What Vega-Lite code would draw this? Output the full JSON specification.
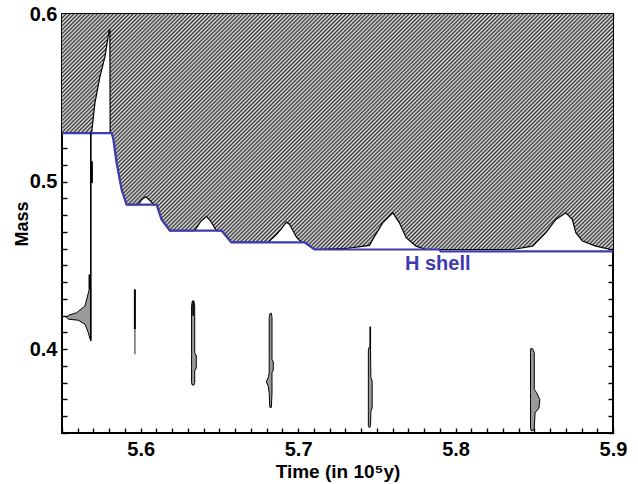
{
  "$schema": "https://vega.github.io/schema/vega-lite/v6.json",
  "width": 551,
  "height": 419,
  "autosize": "none",
  "padding": {"left": 62, "top": 14, "right": 25, "bottom": 51},
  "config": {
    "view": {"stroke": "black", "strokeWidth": 2},
    "axis": {
      "domainColor": "black", "domainWidth": 2,
      "tickColor": "black", "tickWidth": 1.4,
      "labelFont": "Liberation Sans", "labelFontWeight": "bold", "labelFontSize": 20, "labelColor": "black",
      "titleFont": "Liberation Sans", "titleFontWeight": "bold", "titleColor": "black",
      "grid": false, "labelOverlap": false, "labelFlush": false
    }
  },
  "datasets": {
    "env": [
      {"t": 5.5500, "m": 0.5289}, {"t": 5.5688, "m": 0.5289}, {"t": 5.5709, "m": 0.5468},
      {"t": 5.5741, "m": 0.5627}, {"t": 5.5773, "m": 0.5746}, {"t": 5.5800, "m": 0.5905},
      {"t": 5.5804, "m": 0.5905}, {"t": 5.5806, "m": 0.5289}, {"t": 5.5815, "m": 0.5289},
      {"t": 5.5825, "m": 0.5260}, {"t": 5.5847, "m": 0.5111}, {"t": 5.5879, "m": 0.4952},
      {"t": 5.5910, "m": 0.4863}, {"t": 5.5984, "m": 0.4863}, {"t": 5.6007, "m": 0.4893},
      {"t": 5.6033, "m": 0.4909}, {"t": 5.6058, "m": 0.4887}, {"t": 5.6083, "m": 0.4863},
      {"t": 5.6101, "m": 0.4863}, {"t": 5.6132, "m": 0.4774}, {"t": 5.6185, "m": 0.4708},
      {"t": 5.6343, "m": 0.4708}, {"t": 5.6381, "m": 0.4762}, {"t": 5.6418, "m": 0.4793},
      {"t": 5.6445, "m": 0.4762}, {"t": 5.6481, "m": 0.4708}, {"t": 5.6513, "m": 0.4708},
      {"t": 5.6576, "m": 0.4637}, {"t": 5.6808, "m": 0.4637}, {"t": 5.6857, "m": 0.4679},
      {"t": 5.6889, "m": 0.4714}, {"t": 5.6925, "m": 0.4758}, {"t": 5.6946, "m": 0.4744},
      {"t": 5.6990, "m": 0.4667}, {"t": 5.7022, "m": 0.4637}, {"t": 5.7041, "m": 0.4637},
      {"t": 5.7104, "m": 0.4595}, {"t": 5.7305, "m": 0.4601}, {"t": 5.7453, "m": 0.4619},
      {"t": 5.7474, "m": 0.4655}, {"t": 5.7537, "m": 0.4754}, {"t": 5.7601, "m": 0.4814},
      {"t": 5.7643, "m": 0.4754}, {"t": 5.7686, "m": 0.4665}, {"t": 5.7749, "m": 0.4615},
      {"t": 5.7813, "m": 0.4595}, {"t": 5.7897, "m": 0.4595}, {"t": 5.8362, "m": 0.4595},
      {"t": 5.8489, "m": 0.4615}, {"t": 5.8574, "m": 0.4695}, {"t": 5.8637, "m": 0.4774},
      {"t": 5.8700, "m": 0.4814}, {"t": 5.8742, "m": 0.4774}, {"t": 5.8764, "m": 0.4695},
      {"t": 5.8806, "m": 0.4645}, {"t": 5.8891, "m": 0.4615}, {"t": 5.9000, "m": 0.4592}
    ],
    "hshell": [
      {"t": 5.5500, "m": 0.5289}, {"t": 5.5815, "m": 0.5289}, {"t": 5.5825, "m": 0.5260},
      {"t": 5.5847, "m": 0.5111}, {"t": 5.5879, "m": 0.4952}, {"t": 5.5910, "m": 0.4863},
      {"t": 5.6101, "m": 0.4863}, {"t": 5.6132, "m": 0.4774}, {"t": 5.6185, "m": 0.4708},
      {"t": 5.6513, "m": 0.4708}, {"t": 5.6576, "m": 0.4637}, {"t": 5.7041, "m": 0.4637},
      {"t": 5.7104, "m": 0.4595}, {"t": 5.7897, "m": 0.4595}, {"t": 5.7905, "m": 0.4584},
      {"t": 5.9000, "m": 0.4584}
    ],
    "pulses": [
      {"p": 1, "m": 0.4357, "t1": 5.5673, "t2": 5.5682},
      {"p": 1, "m": 0.4258, "t1": 5.5646, "t2": 5.5682},
      {"p": 1, "m": 0.4218, "t1": 5.5593, "t2": 5.5682},
      {"p": 1, "m": 0.4202, "t1": 5.5540, "t2": 5.5682},
      {"p": 1, "m": 0.4189, "t1": 5.5530, "t2": 5.5682},
      {"p": 1, "m": 0.4179, "t1": 5.5540, "t2": 5.5682},
      {"p": 1, "m": 0.4173, "t1": 5.5603, "t2": 5.5682},
      {"p": 1, "m": 0.4149, "t1": 5.5646, "t2": 5.5682},
      {"p": 1, "m": 0.4099, "t1": 5.5667, "t2": 5.5682},
      {"p": 1, "m": 0.4060, "t1": 5.5678, "t2": 5.5682},
      {"p": 3, "m": 0.4288, "t1": 5.6328, "t2": 5.6338},
      {"p": 3, "m": 0.4260, "t1": 5.6323, "t2": 5.6343},
      {"p": 3, "m": 0.3980, "t1": 5.6323, "t2": 5.6343},
      {"p": 3, "m": 0.3960, "t1": 5.6323, "t2": 5.6353},
      {"p": 3, "m": 0.3890, "t1": 5.6323, "t2": 5.6353},
      {"p": 3, "m": 0.3870, "t1": 5.6323, "t2": 5.6343},
      {"p": 3, "m": 0.3800, "t1": 5.6323, "t2": 5.6343},
      {"p": 3, "m": 0.3786, "t1": 5.6328, "t2": 5.6338},
      {"p": 4, "m": 0.4214, "t1": 5.6822, "t2": 5.6830},
      {"p": 4, "m": 0.4190, "t1": 5.6816, "t2": 5.6834},
      {"p": 4, "m": 0.3940, "t1": 5.6816, "t2": 5.6834},
      {"p": 4, "m": 0.3925, "t1": 5.6816, "t2": 5.6842},
      {"p": 4, "m": 0.3875, "t1": 5.6816, "t2": 5.6842},
      {"p": 4, "m": 0.3860, "t1": 5.6816, "t2": 5.6834},
      {"p": 4, "m": 0.3835, "t1": 5.6812, "t2": 5.6834},
      {"p": 4, "m": 0.3805, "t1": 5.6798, "t2": 5.6834},
      {"p": 4, "m": 0.3780, "t1": 5.6810, "t2": 5.6834},
      {"p": 4, "m": 0.3740, "t1": 5.6816, "t2": 5.6834},
      {"p": 4, "m": 0.3653, "t1": 5.6820, "t2": 5.6830},
      {"p": 5, "m": 0.4010, "t1": 5.7450, "t2": 5.7460},
      {"p": 5, "m": 0.3990, "t1": 5.7446, "t2": 5.7460},
      {"p": 5, "m": 0.3830, "t1": 5.7446, "t2": 5.7462},
      {"p": 5, "m": 0.3810, "t1": 5.7446, "t2": 5.7470},
      {"p": 5, "m": 0.3650, "t1": 5.7446, "t2": 5.7470},
      {"p": 5, "m": 0.3630, "t1": 5.7446, "t2": 5.7462},
      {"p": 5, "m": 0.3545, "t1": 5.7446, "t2": 5.7460},
      {"p": 5, "m": 0.3534, "t1": 5.7450, "t2": 5.7456},
      {"p": 6, "m": 0.4004, "t1": 5.8478, "t2": 5.8488},
      {"p": 6, "m": 0.3980, "t1": 5.8476, "t2": 5.8500},
      {"p": 6, "m": 0.3760, "t1": 5.8476, "t2": 5.8500},
      {"p": 6, "m": 0.3740, "t1": 5.8476, "t2": 5.8515},
      {"p": 6, "m": 0.3700, "t1": 5.8476, "t2": 5.8535},
      {"p": 6, "m": 0.3650, "t1": 5.8476, "t2": 5.8530},
      {"p": 6, "m": 0.3620, "t1": 5.8476, "t2": 5.8505},
      {"p": 6, "m": 0.3530, "t1": 5.8476, "t2": 5.8500},
      {"p": 6, "m": 0.3514, "t1": 5.8480, "t2": 5.8492}
    ],
    "rules": [
      {"t": 5.5683, "m1": 0.5289, "m2": 0.4049, "kind": "mid"},
      {"t": 5.5690, "m1": 0.5121, "m2": 0.4992, "kind": "thick"},
      {"t": 5.5675, "m1": 0.4446, "m2": 0.4357, "kind": "thick"},
      {"t": 5.5963, "m1": 0.4357, "m2": 0.4119, "kind": "thick"},
      {"t": 5.5963, "m1": 0.4119, "m2": 0.3970, "kind": "thin"},
      {"t": 5.6333, "m1": 0.4288, "m2": 0.4200, "kind": "mid"},
      {"t": 5.7458, "m1": 0.4135, "m2": 0.4005, "kind": "mid"}
    ],
    "labels": [
      {"t": 5.7887, "m": 0.4506, "label": "H shell"}
    ]
  },
  "layer": [
    {
      "data": {"name": "env"},
      "mark": {"type": "area", "fill": {"gradient": "linear", "x1": 0, "y1": 0, "x2": 1.21, "y2": 0.518, "stops": [
{"offset":0,"color":"#333"},{"offset":0.0025,"color":"#e6e6e6"},{"offset":0.005,"color":"#333"},{"offset":0.0075,"color":"#e6e6e6"},
{"offset":0.01,"color":"#333"},{"offset":0.0125,"color":"#e6e6e6"},{"offset":0.015,"color":"#333"},{"offset":0.0175,"color":"#e6e6e6"},
{"offset":0.02,"color":"#333"},{"offset":0.0225,"color":"#e6e6e6"},{"offset":0.025,"color":"#333"},{"offset":0.0275,"color":"#e6e6e6"},
{"offset":0.03,"color":"#333"},{"offset":0.0325,"color":"#e6e6e6"},{"offset":0.035,"color":"#333"},{"offset":0.0375,"color":"#e6e6e6"},
{"offset":0.04,"color":"#333"},{"offset":0.0425,"color":"#e6e6e6"},{"offset":0.045,"color":"#333"},{"offset":0.0475,"color":"#e6e6e6"},
{"offset":0.05,"color":"#333"},{"offset":0.0525,"color":"#e6e6e6"},{"offset":0.055,"color":"#333"},{"offset":0.0575,"color":"#e6e6e6"},
{"offset":0.06,"color":"#333"},{"offset":0.0625,"color":"#e6e6e6"},{"offset":0.065,"color":"#333"},{"offset":0.0675,"color":"#e6e6e6"},
{"offset":0.07,"color":"#333"},{"offset":0.0725,"color":"#e6e6e6"},{"offset":0.075,"color":"#333"},{"offset":0.0775,"color":"#e6e6e6"},
{"offset":0.08,"color":"#333"},{"offset":0.0825,"color":"#e6e6e6"},{"offset":0.085,"color":"#333"},{"offset":0.0875,"color":"#e6e6e6"},
{"offset":0.09,"color":"#333"},{"offset":0.0925,"color":"#e6e6e6"},{"offset":0.095,"color":"#333"},{"offset":0.0975,"color":"#e6e6e6"},
{"offset":0.10,"color":"#333"},{"offset":0.1025,"color":"#e6e6e6"},{"offset":0.105,"color":"#333"},{"offset":0.1075,"color":"#e6e6e6"},
{"offset":0.11,"color":"#333"},{"offset":0.1125,"color":"#e6e6e6"},{"offset":0.115,"color":"#333"},{"offset":0.1175,"color":"#e6e6e6"},
{"offset":0.12,"color":"#333"},{"offset":0.1225,"color":"#e6e6e6"},{"offset":0.125,"color":"#333"},{"offset":0.1275,"color":"#e6e6e6"},
{"offset":0.13,"color":"#333"},{"offset":0.1325,"color":"#e6e6e6"},{"offset":0.135,"color":"#333"},{"offset":0.1375,"color":"#e6e6e6"},
{"offset":0.14,"color":"#333"},{"offset":0.1425,"color":"#e6e6e6"},{"offset":0.145,"color":"#333"},{"offset":0.1475,"color":"#e6e6e6"},
{"offset":0.15,"color":"#333"},{"offset":0.1525,"color":"#e6e6e6"},{"offset":0.155,"color":"#333"},{"offset":0.1575,"color":"#e6e6e6"},
{"offset":0.16,"color":"#333"},{"offset":0.1625,"color":"#e6e6e6"},{"offset":0.165,"color":"#333"},{"offset":0.1675,"color":"#e6e6e6"},
{"offset":0.17,"color":"#333"},{"offset":0.1725,"color":"#e6e6e6"},{"offset":0.175,"color":"#333"},{"offset":0.1775,"color":"#e6e6e6"},
{"offset":0.18,"color":"#333"},{"offset":0.1825,"color":"#e6e6e6"},{"offset":0.185,"color":"#333"},{"offset":0.1875,"color":"#e6e6e6"},
{"offset":0.19,"color":"#333"},{"offset":0.1925,"color":"#e6e6e6"},{"offset":0.195,"color":"#333"},{"offset":0.1975,"color":"#e6e6e6"},
{"offset":0.20,"color":"#333"},{"offset":0.2025,"color":"#e6e6e6"},{"offset":0.205,"color":"#333"},{"offset":0.2075,"color":"#e6e6e6"},
{"offset":0.21,"color":"#333"},{"offset":0.2125,"color":"#e6e6e6"},{"offset":0.215,"color":"#333"},{"offset":0.2175,"color":"#e6e6e6"},
{"offset":0.22,"color":"#333"},{"offset":0.2225,"color":"#e6e6e6"},{"offset":0.225,"color":"#333"},{"offset":0.2275,"color":"#e6e6e6"},
{"offset":0.23,"color":"#333"},{"offset":0.2325,"color":"#e6e6e6"},{"offset":0.235,"color":"#333"},{"offset":0.2375,"color":"#e6e6e6"},
{"offset":0.24,"color":"#333"},{"offset":0.2425,"color":"#e6e6e6"},{"offset":0.245,"color":"#333"},{"offset":0.2475,"color":"#e6e6e6"},
{"offset":0.25,"color":"#333"},{"offset":0.2525,"color":"#e6e6e6"},{"offset":0.255,"color":"#333"},{"offset":0.2575,"color":"#e6e6e6"},
{"offset":0.26,"color":"#333"},{"offset":0.2625,"color":"#e6e6e6"},{"offset":0.265,"color":"#333"},{"offset":0.2675,"color":"#e6e6e6"},
{"offset":0.27,"color":"#333"},{"offset":0.2725,"color":"#e6e6e6"},{"offset":0.275,"color":"#333"},{"offset":0.2775,"color":"#e6e6e6"},
{"offset":0.28,"color":"#333"},{"offset":0.2825,"color":"#e6e6e6"},{"offset":0.285,"color":"#333"},{"offset":0.2875,"color":"#e6e6e6"},
{"offset":0.29,"color":"#333"},{"offset":0.2925,"color":"#e6e6e6"},{"offset":0.295,"color":"#333"},{"offset":0.2975,"color":"#e6e6e6"},
{"offset":0.30,"color":"#333"},{"offset":0.3025,"color":"#e6e6e6"},{"offset":0.305,"color":"#333"},{"offset":0.3075,"color":"#e6e6e6"},
{"offset":0.31,"color":"#333"},{"offset":0.3125,"color":"#e6e6e6"},{"offset":0.315,"color":"#333"},{"offset":0.3175,"color":"#e6e6e6"},
{"offset":0.32,"color":"#333"},{"offset":0.3225,"color":"#e6e6e6"},{"offset":0.325,"color":"#333"},{"offset":0.3275,"color":"#e6e6e6"},
{"offset":0.33,"color":"#333"},{"offset":0.3325,"color":"#e6e6e6"},{"offset":0.335,"color":"#333"},{"offset":0.3375,"color":"#e6e6e6"},
{"offset":0.34,"color":"#333"},{"offset":0.3425,"color":"#e6e6e6"},{"offset":0.345,"color":"#333"},{"offset":0.3475,"color":"#e6e6e6"},
{"offset":0.35,"color":"#333"},{"offset":0.3525,"color":"#e6e6e6"},{"offset":0.355,"color":"#333"},{"offset":0.3575,"color":"#e6e6e6"},
{"offset":0.36,"color":"#333"},{"offset":0.3625,"color":"#e6e6e6"},{"offset":0.365,"color":"#333"},{"offset":0.3675,"color":"#e6e6e6"},
{"offset":0.37,"color":"#333"},{"offset":0.3725,"color":"#e6e6e6"},{"offset":0.375,"color":"#333"},{"offset":0.3775,"color":"#e6e6e6"},
{"offset":0.38,"color":"#333"},{"offset":0.3825,"color":"#e6e6e6"},{"offset":0.385,"color":"#333"},{"offset":0.3875,"color":"#e6e6e6"},
{"offset":0.39,"color":"#333"},{"offset":0.3925,"color":"#e6e6e6"},{"offset":0.395,"color":"#333"},{"offset":0.3975,"color":"#e6e6e6"},
{"offset":0.40,"color":"#333"},{"offset":0.4025,"color":"#e6e6e6"},{"offset":0.405,"color":"#333"},{"offset":0.4075,"color":"#e6e6e6"},
{"offset":0.41,"color":"#333"},{"offset":0.4125,"color":"#e6e6e6"},{"offset":0.415,"color":"#333"},{"offset":0.4175,"color":"#e6e6e6"},
{"offset":0.42,"color":"#333"},{"offset":0.4225,"color":"#e6e6e6"},{"offset":0.425,"color":"#333"},{"offset":0.4275,"color":"#e6e6e6"},
{"offset":0.43,"color":"#333"},{"offset":0.4325,"color":"#e6e6e6"},{"offset":0.435,"color":"#333"},{"offset":0.4375,"color":"#e6e6e6"},
{"offset":0.44,"color":"#333"},{"offset":0.4425,"color":"#e6e6e6"},{"offset":0.445,"color":"#333"},{"offset":0.4475,"color":"#e6e6e6"},
{"offset":0.45,"color":"#333"},{"offset":0.4525,"color":"#e6e6e6"},{"offset":0.455,"color":"#333"},{"offset":0.4575,"color":"#e6e6e6"},
{"offset":0.46,"color":"#333"},{"offset":0.4625,"color":"#e6e6e6"},{"offset":0.465,"color":"#333"},{"offset":0.4675,"color":"#e6e6e6"},
{"offset":0.47,"color":"#333"},{"offset":0.4725,"color":"#e6e6e6"},{"offset":0.475,"color":"#333"},{"offset":0.4775,"color":"#e6e6e6"},
{"offset":0.48,"color":"#333"},{"offset":0.4825,"color":"#e6e6e6"},{"offset":0.485,"color":"#333"},{"offset":0.4875,"color":"#e6e6e6"},
{"offset":0.49,"color":"#333"},{"offset":0.4925,"color":"#e6e6e6"},{"offset":0.495,"color":"#333"},{"offset":0.4975,"color":"#e6e6e6"},
{"offset":0.50,"color":"#333"},{"offset":0.5025,"color":"#e6e6e6"},{"offset":0.505,"color":"#333"},{"offset":0.5075,"color":"#e6e6e6"},
{"offset":0.51,"color":"#333"},{"offset":0.5125,"color":"#e6e6e6"},{"offset":0.515,"color":"#333"},{"offset":0.5175,"color":"#e6e6e6"},
{"offset":0.52,"color":"#333"},{"offset":0.5225,"color":"#e6e6e6"},{"offset":0.525,"color":"#333"},{"offset":0.5275,"color":"#e6e6e6"},
{"offset":0.53,"color":"#333"},{"offset":0.5325,"color":"#e6e6e6"},{"offset":0.535,"color":"#333"},{"offset":0.5375,"color":"#e6e6e6"},
{"offset":0.54,"color":"#333"},{"offset":0.5425,"color":"#e6e6e6"},{"offset":0.545,"color":"#333"},{"offset":0.5475,"color":"#e6e6e6"},
{"offset":0.55,"color":"#333"},{"offset":0.5525,"color":"#e6e6e6"},{"offset":0.555,"color":"#333"},{"offset":0.5575,"color":"#e6e6e6"},
{"offset":0.56,"color":"#333"},{"offset":0.5625,"color":"#e6e6e6"},{"offset":0.565,"color":"#333"},{"offset":0.5675,"color":"#e6e6e6"},
{"offset":0.57,"color":"#333"},{"offset":0.5725,"color":"#e6e6e6"},{"offset":0.575,"color":"#333"},{"offset":0.5775,"color":"#e6e6e6"},
{"offset":0.58,"color":"#333"},{"offset":0.5825,"color":"#e6e6e6"},{"offset":0.585,"color":"#333"},{"offset":0.5875,"color":"#e6e6e6"},
{"offset":0.59,"color":"#333"},{"offset":0.5925,"color":"#e6e6e6"},{"offset":0.595,"color":"#333"},{"offset":0.5975,"color":"#e6e6e6"},
{"offset":0.60,"color":"#333"},{"offset":0.6025,"color":"#e6e6e6"},{"offset":0.605,"color":"#333"},{"offset":0.6075,"color":"#e6e6e6"},
{"offset":0.61,"color":"#333"},{"offset":0.6125,"color":"#e6e6e6"},{"offset":0.615,"color":"#333"},{"offset":0.6175,"color":"#e6e6e6"},
{"offset":0.62,"color":"#333"},{"offset":0.6225,"color":"#e6e6e6"},{"offset":0.625,"color":"#333"},{"offset":0.6275,"color":"#e6e6e6"},
{"offset":0.63,"color":"#333"},{"offset":0.6325,"color":"#e6e6e6"},{"offset":0.635,"color":"#333"},{"offset":0.6375,"color":"#e6e6e6"},
{"offset":0.64,"color":"#333"},{"offset":0.6425,"color":"#e6e6e6"},{"offset":0.645,"color":"#333"},{"offset":0.6475,"color":"#e6e6e6"},
{"offset":0.65,"color":"#333"},{"offset":0.6525,"color":"#e6e6e6"},{"offset":0.655,"color":"#333"},{"offset":0.6575,"color":"#e6e6e6"},
{"offset":0.66,"color":"#333"},{"offset":0.6625,"color":"#e6e6e6"},{"offset":0.665,"color":"#333"},{"offset":0.6675,"color":"#e6e6e6"},
{"offset":0.67,"color":"#333"},{"offset":0.6725,"color":"#e6e6e6"},{"offset":0.675,"color":"#333"},{"offset":0.6775,"color":"#e6e6e6"},
{"offset":0.68,"color":"#333"},{"offset":0.6825,"color":"#e6e6e6"},{"offset":0.685,"color":"#333"},{"offset":0.6875,"color":"#e6e6e6"},
{"offset":0.69,"color":"#333"},{"offset":0.6925,"color":"#e6e6e6"},{"offset":0.695,"color":"#333"},{"offset":0.6975,"color":"#e6e6e6"},
{"offset":0.70,"color":"#333"},{"offset":0.7025,"color":"#e6e6e6"},{"offset":0.705,"color":"#333"},{"offset":0.7075,"color":"#e6e6e6"},
{"offset":0.71,"color":"#333"},{"offset":0.7125,"color":"#e6e6e6"},{"offset":0.715,"color":"#333"},{"offset":0.7175,"color":"#e6e6e6"},
{"offset":0.72,"color":"#333"},{"offset":0.7225,"color":"#e6e6e6"},{"offset":0.725,"color":"#333"},{"offset":0.7275,"color":"#e6e6e6"},
{"offset":0.73,"color":"#333"},{"offset":0.7325,"color":"#e6e6e6"},{"offset":0.735,"color":"#333"},{"offset":0.7375,"color":"#e6e6e6"},
{"offset":0.74,"color":"#333"},{"offset":0.7425,"color":"#e6e6e6"},{"offset":0.745,"color":"#333"},{"offset":0.7475,"color":"#e6e6e6"},
{"offset":0.75,"color":"#333"},{"offset":0.7525,"color":"#e6e6e6"},{"offset":0.755,"color":"#333"},{"offset":0.7575,"color":"#e6e6e6"},
{"offset":0.76,"color":"#333"},{"offset":0.7625,"color":"#e6e6e6"},{"offset":0.765,"color":"#333"},{"offset":0.7675,"color":"#e6e6e6"},
{"offset":0.77,"color":"#333"},{"offset":0.7725,"color":"#e6e6e6"},{"offset":0.775,"color":"#333"},{"offset":0.7775,"color":"#e6e6e6"},
{"offset":0.78,"color":"#333"},{"offset":0.7825,"color":"#e6e6e6"},{"offset":0.785,"color":"#333"},{"offset":0.7875,"color":"#e6e6e6"},
{"offset":0.79,"color":"#333"},{"offset":0.7925,"color":"#e6e6e6"},{"offset":0.795,"color":"#333"},{"offset":0.7975,"color":"#e6e6e6"},
{"offset":0.80,"color":"#333"},{"offset":0.8025,"color":"#e6e6e6"},{"offset":0.805,"color":"#333"},{"offset":0.8075,"color":"#e6e6e6"},
{"offset":0.81,"color":"#333"},{"offset":0.8125,"color":"#e6e6e6"},{"offset":0.815,"color":"#333"},{"offset":0.8175,"color":"#e6e6e6"},
{"offset":0.82,"color":"#333"},{"offset":0.8225,"color":"#e6e6e6"},{"offset":0.825,"color":"#333"},{"offset":0.8275,"color":"#e6e6e6"},
{"offset":0.83,"color":"#333"},{"offset":0.8325,"color":"#e6e6e6"},{"offset":0.835,"color":"#333"},{"offset":0.8375,"color":"#e6e6e6"},
{"offset":0.84,"color":"#333"},{"offset":0.8425,"color":"#e6e6e6"},{"offset":0.845,"color":"#333"},{"offset":0.8475,"color":"#e6e6e6"},
{"offset":0.85,"color":"#333"},{"offset":0.8525,"color":"#e6e6e6"},{"offset":0.855,"color":"#333"},{"offset":0.8575,"color":"#e6e6e6"},
{"offset":0.86,"color":"#333"},{"offset":0.8625,"color":"#e6e6e6"},{"offset":0.865,"color":"#333"},{"offset":0.8675,"color":"#e6e6e6"},
{"offset":0.87,"color":"#333"},{"offset":0.8725,"color":"#e6e6e6"},{"offset":0.875,"color":"#333"},{"offset":0.8775,"color":"#e6e6e6"},
{"offset":0.88,"color":"#333"},{"offset":0.8825,"color":"#e6e6e6"},{"offset":0.885,"color":"#333"},{"offset":0.8875,"color":"#e6e6e6"},
{"offset":0.89,"color":"#333"},{"offset":0.8925,"color":"#e6e6e6"},{"offset":0.895,"color":"#333"},{"offset":0.8975,"color":"#e6e6e6"},
{"offset":0.90,"color":"#333"},{"offset":0.9025,"color":"#e6e6e6"},{"offset":0.905,"color":"#333"},{"offset":0.9075,"color":"#e6e6e6"},
{"offset":0.91,"color":"#333"},{"offset":0.9125,"color":"#e6e6e6"},{"offset":0.915,"color":"#333"},{"offset":0.9175,"color":"#e6e6e6"},
{"offset":0.92,"color":"#333"},{"offset":0.9225,"color":"#e6e6e6"},{"offset":0.925,"color":"#333"},{"offset":0.9275,"color":"#e6e6e6"},
{"offset":0.93,"color":"#333"},{"offset":0.9325,"color":"#e6e6e6"},{"offset":0.935,"color":"#333"},{"offset":0.9375,"color":"#e6e6e6"},
{"offset":0.94,"color":"#333"},{"offset":0.9425,"color":"#e6e6e6"},{"offset":0.945,"color":"#333"},{"offset":0.9475,"color":"#e6e6e6"},
{"offset":0.95,"color":"#333"},{"offset":0.9525,"color":"#e6e6e6"},{"offset":0.955,"color":"#333"},{"offset":0.9575,"color":"#e6e6e6"},
{"offset":0.96,"color":"#333"},{"offset":0.9625,"color":"#e6e6e6"},{"offset":0.965,"color":"#333"},{"offset":0.9675,"color":"#e6e6e6"},
{"offset":0.97,"color":"#333"},{"offset":0.9725,"color":"#e6e6e6"},{"offset":0.975,"color":"#333"},{"offset":0.9775,"color":"#e6e6e6"},
{"offset":0.98,"color":"#333"},{"offset":0.9825,"color":"#e6e6e6"},{"offset":0.985,"color":"#333"},{"offset":0.9875,"color":"#e6e6e6"},
{"offset":0.99,"color":"#333"},{"offset":0.9925,"color":"#e6e6e6"},{"offset":0.995,"color":"#333"},{"offset":0.9975,"color":"#e6e6e6"},
{"offset":1,"color":"#333"}
      ]}},
      "encoding": {
        "x": {
          "field": "t", "type": "quantitative",
          "scale": {"domain": [5.55, 5.9], "nice": false, "zero": false},
          "axis": {
            "orient": "bottom", "title": "Time (in 10⁵y)", "titleFontSize": 19, "titlePadding": 3,
            "domain": false, "offset": -5, "tickSize": 5, "labelPadding": 6,
            "values": [5.55,5.56,5.57,5.58,5.59,5.6,5.61,5.62,5.63,5.64,5.65,5.66,5.67,5.68,5.69,5.7,5.71,5.72,5.73,5.74,5.75,5.76,5.77,5.78,5.79,5.8,5.81,5.82,5.83,5.84,5.85,5.86,5.87,5.88,5.89,5.9],
            "labelExpr": "abs(datum.value*10 - round(datum.value*10)) < 0.001 ? format(datum.value, '.1f') : ''"
          }
        },
        "y": {
          "field": "m", "type": "quantitative",
          "scale": {"domain": [0.35, 0.6], "nice": false, "zero": false},
          "axis": {
            "orient": "left", "title": "Mass", "titleFontSize": 18, "titlePadding": -2,
            "domain": false, "offset": -5, "tickSize": 5, "labelPadding": 5,
            "values": [0.35,0.36,0.37,0.38,0.39,0.4,0.41,0.42,0.43,0.44,0.45,0.46,0.47,0.48,0.49,0.5,0.51,0.52,0.53,0.54,0.55,0.56,0.57,0.58,0.59,0.6],
            "labelExpr": "abs(datum.value*10 - round(datum.value*10)) < 0.001 ? format(datum.value, '.1f') : ''"
          }
        },
        "y2": {"datum": 0.6}
      }
    },
    {
      "data": {"name": "env"},
      "mark": {"type": "line", "color": "black", "strokeWidth": 1.2},
      "encoding": {
        "x": {"field": "t", "type": "quantitative", "axis": null},
        "y": {"field": "m", "type": "quantitative", "axis": null}
      }
    },
    {
      "data": {"name": "hshell"},
      "mark": {"type": "line", "color": "#3c3cb0", "strokeWidth": 2.2},
      "encoding": {
        "x": {
          "field": "t", "type": "quantitative",
          "axis": {
            "orient": "top", "title": null, "labels": false, "domain": false, "offset": -5, "tickSize": 5,
            "values": [5.55,5.56,5.57,5.58,5.59,5.6,5.61,5.62,5.63,5.64,5.65,5.66,5.67,5.68,5.69,5.7,5.71,5.72,5.73,5.74,5.75,5.76,5.77,5.78,5.79,5.8,5.81,5.82,5.83,5.84,5.85,5.86,5.87,5.88,5.89,5.9]
          }
        },
        "y": {
          "field": "m", "type": "quantitative",
          "axis": {
            "orient": "right", "title": null, "labels": false, "domain": false, "offset": -5, "tickSize": 5,
            "values": [0.35,0.36,0.37,0.38,0.39,0.4,0.41,0.42,0.43,0.44,0.45,0.46,0.47,0.48,0.49,0.5,0.51,0.52,0.53,0.54,0.55,0.56,0.57,0.58,0.59,0.6]
          }
        }
      }
    },
    {
      "data": {"name": "pulses"},
      "mark": {"type": "area", "orient": "horizontal", "fill": "#9a9a9a", "stroke": "black", "strokeWidth": 1},
      "encoding": {
        "y": {"field": "m", "type": "quantitative", "axis": null},
        "x": {"field": "t1", "type": "quantitative", "axis": null},
        "x2": {"field": "t2"},
        "detail": {"field": "p", "type": "nominal"}
      }
    },
    {
      "data": {"name": "rules"},
      "mark": {"type": "rule"},
      "encoding": {
        "x": {"field": "t", "type": "quantitative", "axis": null},
        "y": {"field": "m1", "type": "quantitative", "axis": null},
        "y2": {"field": "m2"},
        "strokeWidth": {"field": "kind", "type": "nominal", "scale": {"domain": ["thin", "mid", "thick"], "range": [1.3, 2, 3.5]}, "legend": null},
        "color": {"field": "kind", "type": "nominal", "scale": {"domain": ["thin", "mid", "thick"], "range": ["#555555", "black", "black"]}, "legend": null}
      }
    },
    {
      "data": {"name": "labels"},
      "mark": {"type": "text", "font": "Liberation Sans", "fontWeight": "bold", "fontSize": 20, "color": "#3c3cae", "baseline": "middle", "align": "center"},
      "encoding": {
        "x": {"field": "t", "type": "quantitative", "axis": null},
        "y": {"field": "m", "type": "quantitative", "axis": null},
        "text": {"field": "label"}
      }
    }
  ],
  "resolve": {"axis": {"x": "independent", "y": "independent"}}
}
